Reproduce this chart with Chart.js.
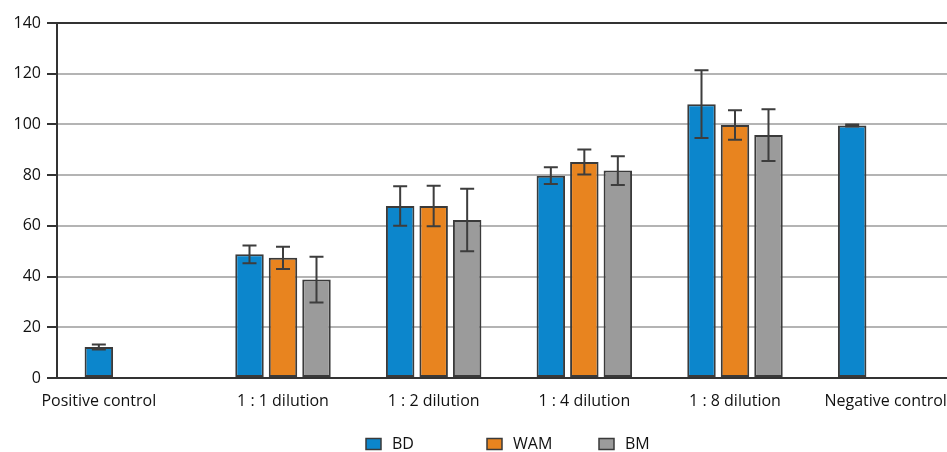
<!DOCTYPE html>
<html>
<head>
<meta charset="utf-8">
<script src="https://cdn.jsdelivr.net/npm/chart.js@4"></script>
<style>
  html, body { margin: 0; padding: 0; background: #fff; overflow: hidden; }
  #wrap { width: 947px; height: 452px; overflow: hidden; }
  #chart { display: block; }
</style>
</head>
<body>
<div id="wrap"><canvas id="chart" width="961" height="452"></canvas></div>
<script>
const categories = ['Positive control', '1 : 1 dilution', '1 : 2 dilution', '1 : 4 dilution', '1 : 8 dilution', 'Negative control'];
const seriesNames = ['BD', 'WAM', 'BM'];
const bdValues  = [12.2, 48.8, 67.8, 79.8, 108.0, 99.6];
const wamValues = [null, 47.4, 67.8, 85.2, 99.8, null];
const bmValues  = [null, 38.8, 62.3, 81.8, 95.8, null];
const bdErrors  = [1.0, 3.5, 7.8, 3.3, 13.4, 0.4];
const wamErrors = [null, 4.4, 8.0, 4.9, 5.8, null];
const bmErrors  = [null, 9.0, 12.3, 5.7, 10.2, null];
const yTicks = [0, 20, 40, 60, 80, 100, 120, 140];

const colors = ['#0c86cc', '#e8841f', '#9b9b9b'];
const FONT = '"Open Sans", "Noto Sans", sans-serif';

// Fehlerbalken nach dem Zeichnen der Balken
const errorBars = {
  id: 'errorBars',
  afterDatasetsDraw(chart) {
    const ctx = chart.ctx;
    const y = chart.scales.y;
    chart.data.datasets.forEach((ds, di) => {
      const meta = chart.getDatasetMeta(di);
      ds.errors.forEach((err, i) => {
        const v = ds.data[i];
        if (v == null || err == null) return;
        const bar = meta.data[i];
        const top = y.getPixelForValue(v + err);
        const bot = y.getPixelForValue(v - err);
        ctx.save();
        ctx.strokeStyle = '#3d3d3d';
        ctx.lineWidth = 2;
        ctx.beginPath();
        ctx.moveTo(bar.x, top); ctx.lineTo(bar.x, bot);
        ctx.moveTo(bar.x - 7, top); ctx.lineTo(bar.x + 7, top);
        ctx.moveTo(bar.x - 7, bot); ctx.lineTo(bar.x + 7, bot);
        ctx.stroke();
        ctx.restore();
      });
    });
  }
};

// Kategorienamen: erste Beschriftung unter dem einzelnen Balken zentriert
const categoryLabels = {
  id: 'categoryLabels',
  afterDraw(chart) {
    const ctx = chart.ctx;
    const x = chart.scales.x;
    const yPos = chart.chartArea.bottom + 23;
    ctx.save();
    ctx.font = '16px ' + FONT;
    ctx.fillStyle = '#111';
    ctx.textAlign = 'center';
    ctx.textBaseline = 'middle';
    categories.forEach((label, i) => {
      let cx = x.getPixelForValue(i);
      if (i === 0) cx = chart.getDatasetMeta(0).data[0].x;
      ctx.fillText(label, cx, yPos);
    });
    ctx.restore();
  }
};

// Legende unten, weit auseinander
const bottomLegend = {
  id: 'bottomLegend',
  afterDraw(chart) {
    const ctx = chart.ctx;
    const xs = [366, 487, 599];
    const yMid = 444;
    ctx.save();
    ctx.font = '16px ' + FONT;
    ctx.textBaseline = 'middle';
    chart.data.datasets.forEach((ds, i) => {
      ctx.fillStyle = ds.backgroundColor;
      ctx.fillRect(xs[i], yMid - 5.5, 15, 11);
      ctx.strokeStyle = '#3a3a3a';
      ctx.lineWidth = 1.5;
      ctx.strokeRect(xs[i], yMid - 5.5, 15, 11);
      ctx.fillStyle = '#111';
      ctx.fillText(ds.label, xs[i] + 26, yMid);
    });
    ctx.restore();
  }
};

const values = [bdValues, wamValues, bmValues];
const errors = [bdErrors, wamErrors, bmErrors];

new Chart(document.getElementById('chart'), {
  type: 'bar',
  data: {
    labels: categories,
    datasets: seriesNames.map((name, i) => ({
      label: name,
      data: values[i],
      errors: errors[i],
      backgroundColor: colors[i],
      borderColor: '#3a3a3a',
      borderWidth: 2,
      borderSkipped: false,
      categoryPercentage: 0.667,
      barPercentage: 0.85
    }))
  },
  options: {
    responsive: false,
    animation: false,
    layout: { padding: { top: 23, right: 0, left: 0, bottom: 0 } },
    scales: {
      x: {
        afterFit: (axis) => { axis.height = 74; },
        grid: { display: false, drawTicks: false },
        border: { color: '#333', width: 2 },
        ticks: { display: false }
      },
      y: {
        min: 0,
        max: 140,
        afterBuildTicks: (axis) => { axis.ticks = yTicks.map(v => ({ value: v })); },
        afterFit: (axis) => { axis.width = 57; },
        grid: {
          color: (c) => (c.tick && (c.tick.value === 140 || c.tick.value === 0)) ? '#333' : '#b4b4b4',
          lineWidth: 2,
          tickLength: 10,
          tickColor: '#333'
        },
        border: { color: '#333', width: 2 },
        ticks: { color: '#111', font: { family: FONT, size: 16 }, padding: 6 }
      }
    },
    plugins: {
      legend: { display: false },
      tooltip: { enabled: false }
    }
  },
  plugins: [errorBars, categoryLabels, bottomLegend]
});
</script>
</body>
</html>
